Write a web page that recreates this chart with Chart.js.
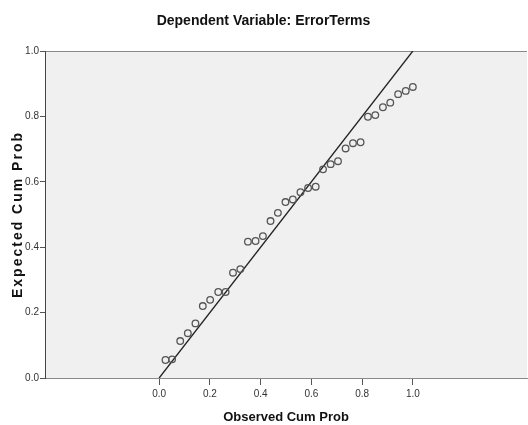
<!DOCTYPE html>
<html><head><meta charset="utf-8">
<script src="https://cdn.jsdelivr.net/npm/chart.js@4"></script>
<style>html,body{margin:0;padding:0;background:#fff;}#wrap{width:528px;height:425px;}</style>
</head><body><div id="wrap"><canvas id="c" width="528" height="425"></canvas></div>
<script>
const observedCumProb = [0.025,0.051,0.083,0.113,0.143,0.172,0.201,0.233,0.262,0.291,0.320,0.350,0.380,0.409,0.439,0.468,0.498,0.527,0.557,0.587,0.617,0.646,0.676,0.705,0.735,0.764,0.794,0.823,0.852,0.882,0.911,0.942,0.972,1.000];
const expectedCumProb = [0.055,0.057,0.113,0.137,0.167,0.220,0.239,0.263,0.263,0.322,0.333,0.417,0.419,0.434,0.480,0.505,0.538,0.546,0.568,0.581,0.585,0.638,0.654,0.663,0.702,0.718,0.721,0.799,0.804,0.828,0.842,0.868,0.878,0.890];
const referenceLineX = [0, 1];
const referenceLineY = [0, 1];
const xTickValues = [0, 0.2, 0.4, 0.6, 0.8, 1.0];
const yTickValues = [0, 0.2, 0.4, 0.6, 0.8, 1.0];
const chartTitle = 'Dependent Variable: ErrorTerms';
const xAxisTitle = 'Observed Cum Prob';
const yAxisTitle = 'Expected Cum Prob';

const NARROW = '"Liberation Sans Narrow", "Arial Narrow", "Liberation Sans", Arial, sans-serif';
const WIDE = '"Liberation Sans", Arial, sans-serif';

const plotBg = {
  id: 'plotBg',
  beforeDraw(chart) {
    const {ctx, chartArea: {left, top, right, bottom}} = chart;
    ctx.save();
    ctx.fillStyle = '#f0f0f0';
    ctx.fillRect(left, top, right - left, bottom - top);
    ctx.strokeStyle = '#8a8a8a';
    ctx.lineWidth = 1;
    ctx.beginPath();
    ctx.moveTo(left, top + 0.5);
    ctx.lineTo(right, top + 0.5);
    ctx.stroke();
    ctx.restore();
  }
};

const chart = new Chart(document.getElementById('c'), {
  type: 'scatter',
  data: {
    datasets: [
      {
        label: 'Observed',
        data: observedCumProb.map((x, i) => ({x, y: expectedCumProb[i]})),
        showLine: false,
        pointStyle: 'circle',
        pointRadius: 3.3,
        pointBackgroundColor: 'rgba(0,0,0,0)',
        pointBorderColor: '#555',
        pointBorderWidth: 1.3
      },
      {
        label: 'Reference',
        data: referenceLineX.map((x, i) => ({x, y: referenceLineY[i]})),
        showLine: true,
        borderColor: '#222',
        borderWidth: 1.3,
        pointRadius: 0
      }
    ]
  },
  options: {
    responsive: false,
    devicePixelRatio: 1,
    animation: false,
    layout: {autoPadding: false, padding: {left: 0, right: 1, top: 0, bottom: 0}},
    plugins: {
      legend: {display: false},
      tooltip: {enabled: false},
      title: {
        display: true,
        text: chartTitle,
        color: '#111',
        font: {family: NARROW, size: 14, weight: 'bold', lineHeight: 1.2},
        padding: {top: 13, bottom: 21.2}
      }
    },
    scales: {
      x: {
        type: 'linear',
        min: -0.45,
        max: 1.45,
        afterFit: s => { s.height = 47; s.paddingLeft = 0; s.paddingRight = 0; },
        afterBuildTicks: s => { s.ticks = xTickValues.map(v => ({value: v})); },
        ticks: {
          autoSkip: false,
          maxRotation: 0,
          padding: 3,
          color: '#333',
          font: {family: NARROW, size: 10},
          callback: v => Number(v).toFixed(1)
        },
        grid: {drawOnChartArea: false, drawTicks: true, tickLength: 7, tickColor: '#555'},
        border: {display: true, color: '#8a8a8a', width: 1},
        title: {
          display: true,
          text: xAxisTitle,
          color: '#111',
          font: {family: WIDE, size: 13, weight: 'bold', lineHeight: 1.2},
          padding: {top: 0, bottom: 0}
        }
      },
      y: {
        type: 'linear',
        min: 0,
        max: 1,
        afterFit: s => { s.width = 45; s.paddingRight = 0; s.paddingLeft = 0; },
        afterBuildTicks: s => { s.ticks = yTickValues.map(v => ({value: v})); },
        ticks: {
          autoSkip: false,
          padding: 1,
          color: '#333',
          font: {family: NARROW, size: 10},
          callback: v => Number(v).toFixed(1)
        },
        grid: {drawOnChartArea: false, drawTicks: true, tickLength: 5, tickColor: '#555'},
        border: {display: true, color: '#444', width: 1},
        title: {
          display: true,
          text: yAxisTitle,
          color: '#111',
          font: {family: WIDE, size: 14, weight: 'bold', lineHeight: 1.2},
          padding: {top: 10, bottom: 0}
        }
      }
    }
  },
  plugins: [plotBg]
});

const yScale = chart.scales.y;
const origDrawTitle = yScale.drawTitle;
yScale.drawTitle = function () {
  this.ctx.save();
  this.ctx.letterSpacing = '2px';
  origDrawTitle.call(this);
  this.ctx.restore();
};
chart.draw();
</script>
</body></html>
